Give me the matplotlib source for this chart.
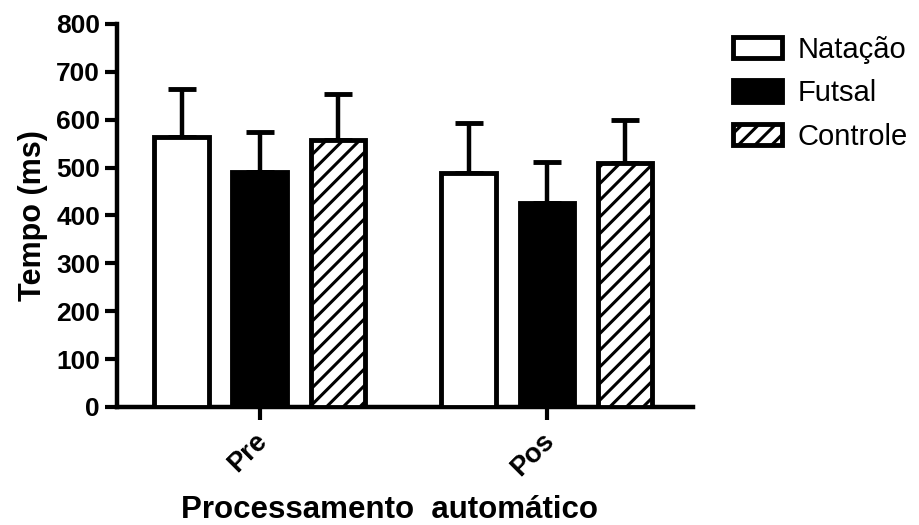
import matplotlib
matplotlib.use("Agg")
import matplotlib.pyplot as plt
import matplotlib.transforms as mtransforms
import numpy as np
from matplotlib.patches import Patch

plt.rcParams['font.family'] = ['Liberation Sans', 'DejaVu Sans']
plt.rcParams['hatch.linewidth'] = 2.2

# Data
groups = ["Pre", "Pos"]
series = ["Natação", "Futsal", "Controle"]
natacao_mean = [564, 488]
natacao_err = [100, 105]
futsal_mean = [491, 426]
futsal_err = [83, 86]
controle_mean = [558, 509]
controle_err = [96, 90]
yticks = [0, 100, 200, 300, 400, 500, 600, 700, 800]

means = [natacao_mean, futsal_mean, controle_mean]
errs = [natacao_err, futsal_err, controle_err]
faces = ["white", "black", "white"]
hatches = [None, None, "//"]

fig = plt.figure(figsize=(9.19, 5.25), dpi=100)
ax = fig.add_axes([0.127, 0.2248, 0.627, 0.7295])

x = np.arange(len(groups))
width = 0.19
offsets = [-0.272, 0.0, 0.272]
lw = 3.5

for m, e, fc, h, off, name in zip(means, errs, faces, hatches, offsets, series):
    pos = x + off
    ax.errorbar(pos, m, yerr=[np.zeros(len(e)), e], fmt='none', ecolor='black',
                elinewidth=3.2, capsize=10, capthick=3.5, zorder=2)
    ax.bar(pos, m, width=width, color=fc, edgecolor='black', linewidth=lw,
           hatch=h, zorder=3, label=name)

ax.set_xlim(-0.498, 1.509)
ax.set_ylim(0, 800)
ax.set_yticks(yticks)
ax.set_yticklabels([str(t) for t in yticks], fontsize=19, fontweight='bold')
ax.set_xticks(x)
ax.set_xticklabels(groups, fontsize=19.5, fontweight='bold', rotation=45,
                   ha='right', va='top', rotation_mode='anchor')
ax.tick_params(axis='both', width=3, length=9, direction='out')
ax.tick_params(axis='y', pad=3)
ax.tick_params(axis='x', pad=6)

# nudge the rotated group labels slightly to the left
shift = mtransforms.ScaledTranslation(-6 / 100, 0, fig.dpi_scale_trans)
for lab in ax.get_xticklabels():
    lab.set_transform(lab.get_transform() + shift)

for s in ['top', 'right']:
    ax.spines[s].set_visible(False)
for s in ['left', 'bottom']:
    ax.spines[s].set_linewidth(3.2)

ax.set_ylabel("Tempo (ms)", fontsize=22, fontweight='bold', labelpad=6)
ax.set_xlabel("Processamento  automático", fontsize=22.5, fontweight='bold')
ax.xaxis.set_label_coords(0.474, -0.229)

handles = [Patch(facecolor=fc, edgecolor='black', linewidth=3.5, hatch=h)
           for fc, h in zip(faces, hatches)]
fig.legend(handles, series, loc='upper left', bbox_to_anchor=(0.7976, 0.932),
           frameon=False, fontsize=21, handlelength=1.69, handleheight=0.76,
           labelspacing=0.53, handletextpad=0.52, borderaxespad=0, borderpad=0)

fig.savefig("out.png", dpi=100)
